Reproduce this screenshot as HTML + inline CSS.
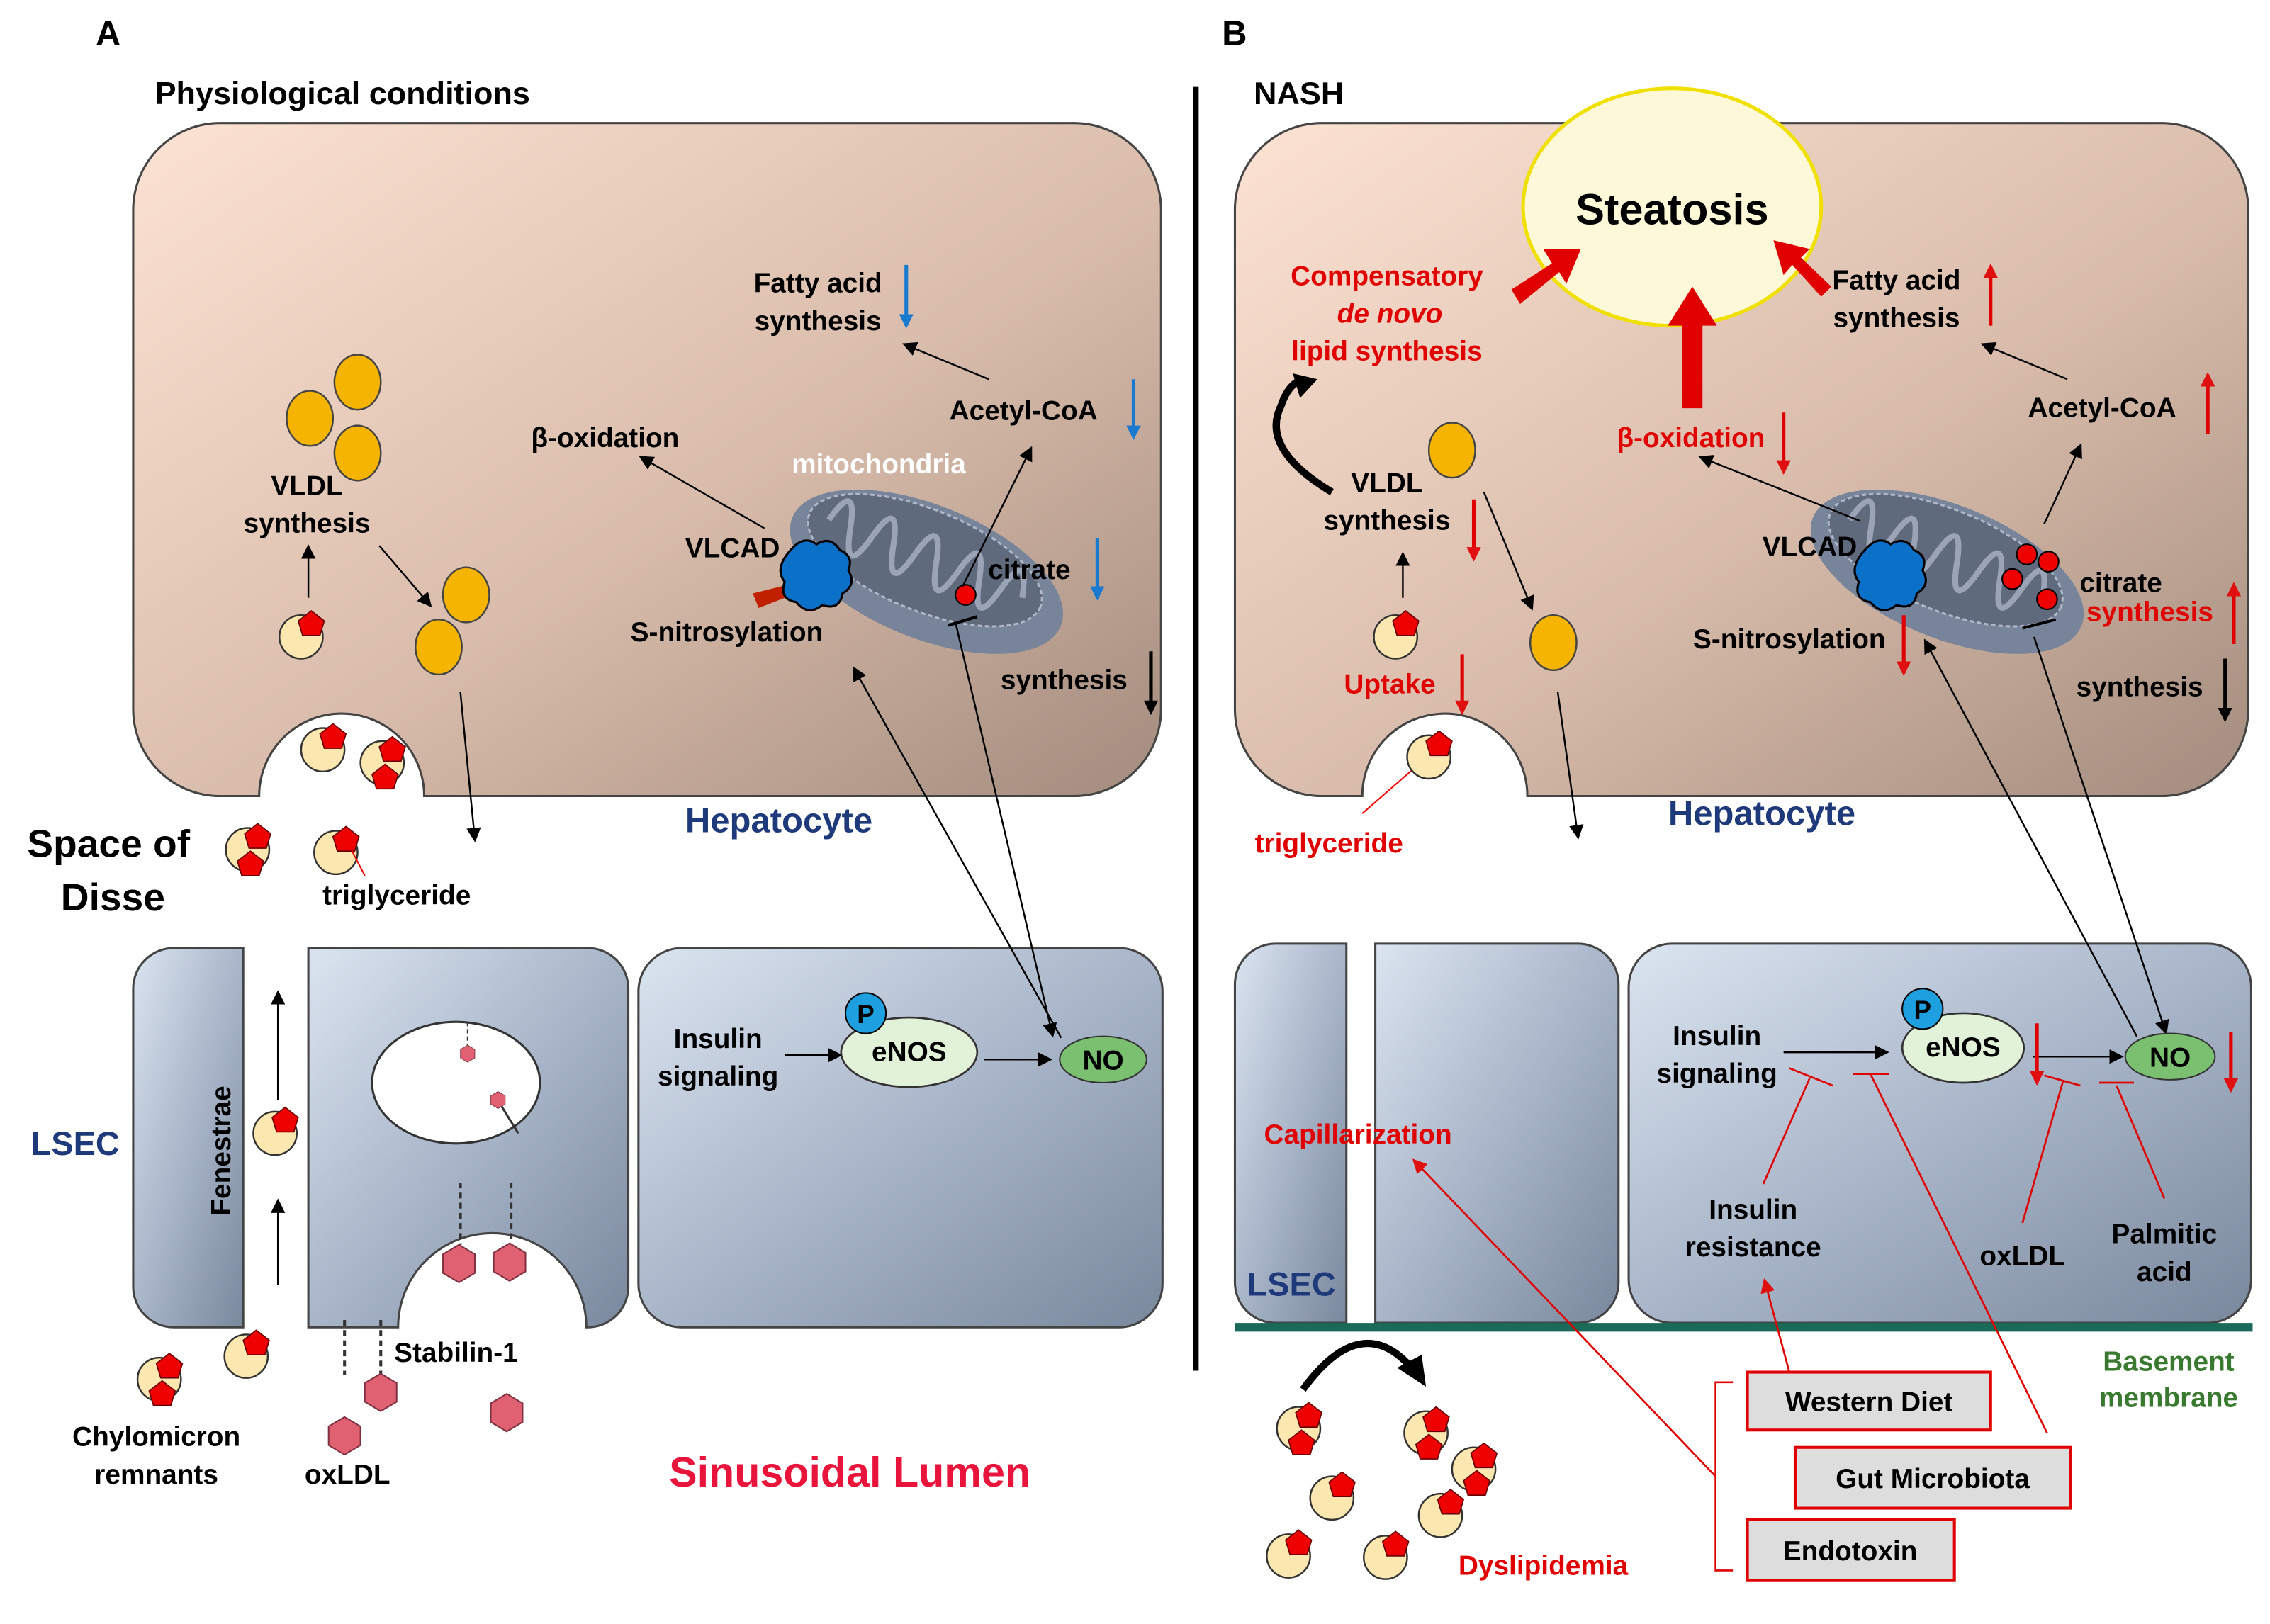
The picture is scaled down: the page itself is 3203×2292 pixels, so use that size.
<!DOCTYPE html>
<html><head><style>html,body{margin:0;padding:0;background:#fff}svg{display:block}</style></head>
<body>
<svg width="3203" height="2292" viewBox="0 0 1568 1122" xmlns="http://www.w3.org/2000/svg" font-family="Liberation Sans, Arial, sans-serif" font-weight="bold">
<defs>
<linearGradient id="hep" x1="0" y1="0" x2="1" y2="1"><stop offset="0" stop-color="#fde3d4"/><stop offset="0.55" stop-color="#d9bcab"/><stop offset="1" stop-color="#a38c7e"/></linearGradient>
<linearGradient id="lsec" x1="0" y1="0" x2="1" y2="1"><stop offset="0" stop-color="#dbe4f0"/><stop offset="0.5" stop-color="#a9b6c9"/><stop offset="1" stop-color="#7a889d"/></linearGradient>
<marker id="ab" markerWidth="10" markerHeight="10" refX="8" refY="5" orient="auto" markerUnits="userSpaceOnUse"><path d="M0,0 L10,5 L0,10 z" fill="#000"/></marker>
<marker id="ablue" markerWidth="10" markerHeight="10" refX="8" refY="5" orient="auto" markerUnits="userSpaceOnUse"><path d="M0,0 L10,5 L0,10 z" fill="#1a7ad0"/></marker>
<marker id="ared" markerWidth="10" markerHeight="10" refX="8" refY="5" orient="auto" markerUnits="userSpaceOnUse"><path d="M0,0 L10,5 L0,10 z" fill="#e01010"/></marker>
<g id="lp"><circle cx="0" cy="0" r="15" fill="#fde7b0" stroke="#333" stroke-width="1.2"/><polygon points="7,-18 16,-11 13,-1 1,-1 -2,-11" fill="#e00" stroke="#600" stroke-width="0.8"/></g>
<g id="lp2"><circle cx="0" cy="0" r="15" fill="#fde7b0" stroke="#333" stroke-width="1.2"/><polygon points="7,-18 16,-11 13,-1 1,-1 -2,-11" fill="#e00" stroke="#600" stroke-width="0.8"/><polygon points="2,1 11,8 8,18 -4,18 -7,8" fill="#e00" stroke="#600" stroke-width="0.8"/></g>
<g id="yc"><ellipse cx="0" cy="0" rx="16" ry="19" fill="#f5b400" stroke="#444" stroke-width="1.2"/></g>
<g id="hex"><polygon points="0,-13 11,-6.5 11,6.5 0,13 -11,6.5 -11,-6.5" fill="#e06272" stroke="#803040" stroke-width="1"/></g>
<g id="mito">
<ellipse cx="0" cy="0" rx="100" ry="46" fill="#77849a"/>
<ellipse cx="-4" cy="-7" rx="86" ry="35" fill="#5f6a7c" stroke="#b0b8c8" stroke-width="1.5" stroke-dasharray="3,2"/>
<path d="M-76,-8 q8,-34 16,0 q8,34 16,0 q8,-34 16,0 q8,34 16,0 q8,-34 16,0 q8,34 16,0 q8,-34 16,0 q8,34 16,0 q8,-34 16,0" fill="none" stroke="#9aa4b6" stroke-width="4"/>
</g>
</defs>
<rect width="1568" height="1122" fill="#fff"/>

<!-- Panel A -->
<text x="66" y="31" font-size="24">A</text>
<text x="107" y="72" font-size="22">Physiological conditions</text>
<path d="M152,85 H742 A60,60 0 0 1 802,145 V490 A60,60 0 0 1 742,550 H293 A57,57 0 0 0 179,550 H152 A60,60 0 0 1 92,490 V145 A60,60 0 0 1 152,85 Z" fill="url(#hep)" stroke="#444" stroke-width="1.5"/>
<line x1="826" y1="60" x2="826" y2="947" stroke="#000" stroke-width="4"/>

<!-- LSEC A -->
<path d="M120,655 H168 V917 H120 A28,28 0 0 1 92,889 V683 A28,28 0 0 1 120,655 Z" fill="url(#lsec)" stroke="#444" stroke-width="1.5"/>
<path d="M213,655 H406 A28,28 0 0 1 434,683 V889 A28,28 0 0 1 406,917 H405 A65,65 0 0 0 275,917 H213 Z" fill="url(#lsec)" stroke="#444" stroke-width="1.5"/>
<rect x="441" y="655" width="362" height="262" rx="30" fill="url(#lsec)" stroke="#444" stroke-width="1.5"/>
<ellipse cx="315" cy="748" rx="58" ry="42" fill="#fff" stroke="#333" stroke-width="1.5"/>
<line x1="323" y1="706" x2="323" y2="725" stroke="#333" stroke-dasharray="3,2"/><use href="#hex" transform="translate(323,728) scale(0.45)"/>
<line x1="345" y1="762" x2="358" y2="783" stroke="#333" stroke-width="1.5"/><use href="#hex" transform="translate(344,760) scale(0.45)"/>
<line x1="318" y1="817" x2="318" y2="860" stroke="#333" stroke-width="2" stroke-dasharray="4,3"/>
<line x1="353" y1="817" x2="353" y2="860" stroke="#333" stroke-width="2" stroke-dasharray="4,3"/>
<use href="#hex" transform="translate(317,873)"/><use href="#hex" transform="translate(352,872)"/>
<line x1="238" y1="912" x2="238" y2="950" stroke="#333" stroke-width="2" stroke-dasharray="4,3"/>
<line x1="263" y1="912" x2="263" y2="950" stroke="#333" stroke-width="2" stroke-dasharray="4,3"/>
<use href="#hex" transform="translate(263,962)"/><use href="#hex" transform="translate(238,992)"/><use href="#hex" transform="translate(350,976)"/>

<g transform="translate(640,395) rotate(22)"><use href="#mito"/></g>
<g font-size="19" fill="#000" text-anchor="middle">
<text x="565" y="202">Fatty acid</text><text x="565" y="228">synthesis</text>
<text x="707" y="290">Acetyl-CoA</text>
<text x="418" y="309">β-oxidation</text>
<text x="212" y="342">VLDL</text><text x="212" y="368">synthesis</text>
<text x="711" y="400">citrate</text>
<text x="502" y="443">S-nitrosylation</text>
<text x="735" y="476">synthesis</text>
<text x="274" y="625">triglyceride</text>
<text x="496" y="724">Insulin</text><text x="496" y="750">signaling</text>
<text x="315" y="941">Stabilin-1</text>
<text x="108" y="999">Chylomicron</text><text x="108" y="1025">remnants</text>
<text x="240" y="1025">oxLDL</text>
</g>
<text x="607" y="327" font-size="19" fill="#fff" text-anchor="middle">mitochondria</text>
<text x="506" y="385" font-size="19" text-anchor="middle">VLCAD</text>
<polygon points="520,410 560,400 555,408 524,420" fill="#c02000"/>
<path d="M548,378 q8,-8 16,-2 q10,-6 16,4 q10,4 6,14 q6,10 -4,16 q-2,12 -14,8 q-10,8 -18,-2 q-12,-2 -8,-14 q-8,-10 6,-24z" fill="#0a70c8" stroke="#000" stroke-width="1.5"/>
<circle cx="667" cy="411" r="7" fill="#e00" stroke="#000"/>
<line x1="655" y1="432" x2="675" y2="426" stroke="#000" stroke-width="2"/>

<!-- A arrows -->
<g stroke="#000" stroke-width="1.2" fill="none" marker-end="url(#ab)">
<line x1="683" y1="262" x2="625" y2="238"/>
<line x1="665" y1="405" x2="712" y2="310"/>
<line x1="528" y1="365" x2="443" y2="316"/>
<line x1="213" y1="413" x2="213" y2="378"/>
<line x1="262" y1="377" x2="297" y2="418"/>
<line x1="318" y1="478" x2="328" y2="580"/>
<line x1="660" y1="430" x2="727" y2="715"/>
<line x1="733" y1="717" x2="590" y2="462"/>
<line x1="542" y1="729" x2="580" y2="729"/>
<line x1="680" y1="732" x2="725" y2="732"/>
<line x1="192" y1="760" x2="192" y2="686"/>
<line x1="192" y1="888" x2="192" y2="830"/>
</g>
<g stroke="#1a7ad0" stroke-width="2.5" marker-end="url(#ablue)">
<line x1="626" y1="183" x2="626" y2="225"/><line x1="783" y1="262" x2="783" y2="302"/><line x1="758" y1="372" x2="758" y2="413"/>
</g>
<line x1="795" y1="450" x2="795" y2="492" stroke="#000" stroke-width="2.5" marker-end="url(#ab)"/>

<use href="#yc" transform="translate(247,264)"/><use href="#yc" transform="translate(214,289)"/><use href="#yc" transform="translate(247,313)"/>
<use href="#yc" transform="translate(322,411)"/><use href="#yc" transform="translate(303,447)"/>
<use href="#lp" transform="translate(208,440)"/>
<use href="#lp" transform="translate(223,518)"/><use href="#lp2" transform="translate(264,527)"/>
<use href="#lp2" transform="translate(171,587)"/><use href="#lp" transform="translate(232,589)"/>
<line x1="238" y1="578" x2="252" y2="605" stroke="#e00" stroke-width="1"/>
<use href="#lp" transform="translate(190,783)"/>
<use href="#lp" transform="translate(170,937)"/><use href="#lp2" transform="translate(110,953)"/>

<text x="75" y="592" font-size="27" text-anchor="middle">Space of</text>
<text x="78" y="629" font-size="27" text-anchor="middle">Disse</text>
<text x="538" y="575" font-size="24" fill="#1f3a7a" text-anchor="middle">Hepatocyte</text>
<text x="52" y="798" font-size="23" fill="#1f3a7a" text-anchor="middle">LSEC</text>
<text transform="translate(159,795) rotate(-90)" font-size="19" text-anchor="middle">Fenestrae</text>
<text x="587" y="1027" font-size="29" fill="#e8143c" text-anchor="middle">Sinusoidal Lumen</text>

<ellipse cx="628" cy="727" rx="47" ry="24" fill="#e2f2d8" stroke="#333" stroke-width="1.3"/>
<text x="628" y="733" font-size="19" text-anchor="middle">eNOS</text>
<circle cx="598" cy="700" r="14" fill="#1ea0e0" stroke="#000"/><text x="598" y="707" font-size="18" text-anchor="middle">P</text>
<ellipse cx="762" cy="732" rx="30" ry="16" fill="#7ac070" stroke="#333"/><text x="762" y="739" font-size="19" text-anchor="middle">NO</text>

<!-- Panel B -->
<text x="844" y="31" font-size="24">B</text>
<text x="866" y="72" font-size="22">NASH</text>
<path d="M913,85 H1493 A60,60 0 0 1 1553,145 V490 A60,60 0 0 1 1493,550 H1055 A57,57 0 0 0 941,550 H913 A60,60 0 0 1 853,490 V145 A60,60 0 0 1 913,85 Z" fill="url(#hep)" stroke="#444" stroke-width="1.5"/>
<path d="M881,652 H930 V914 H881 A28,28 0 0 1 853,886 V680 A28,28 0 0 1 881,652 Z" fill="url(#lsec)" stroke="#444" stroke-width="1.5"/>
<path d="M950,652 H1090 A28,28 0 0 1 1118,680 V886 A28,28 0 0 1 1090,914 H950 Z" fill="url(#lsec)" stroke="#444" stroke-width="1.5"/>
<rect x="1125" y="652" width="430" height="262" rx="30" fill="url(#lsec)" stroke="#444" stroke-width="1.5"/>
<line x1="853" y1="917" x2="1556" y2="917" stroke="#1a6a5a" stroke-width="6"/>

<ellipse cx="1155" cy="143" rx="103" ry="82" fill="#fdf8d8" stroke="#f0e000" stroke-width="2.5"/>
<text x="1155" y="155" font-size="30" text-anchor="middle">Steatosis</text>
<g fill="#e00000">
<polygon points="1044,200 1072,182 1066,172 1092,172 1082,196 1077,188 1050,210"/>
<polygon points="1162,282 1162,225 1152,225 1169,198 1186,225 1176,225 1176,282"/>
<polygon points="1258,205 1238,183 1232,190 1225,166 1250,172 1244,178 1265,198"/>
</g>
<g transform="translate(1345,395) rotate(22)"><use href="#mito"/></g>
<g font-size="19" fill="#e00000" text-anchor="middle">
<text x="958" y="197">Compensatory</text><text x="960" y="223" font-style="italic">de novo</text><text x="958" y="249">lipid synthesis</text>
<text x="1168" y="309">β-oxidation</text>
<text x="960" y="479">Uptake</text>
<text x="918" y="589">triglyceride</text>
<text x="1485" y="429">synthesis</text>
<text x="938" y="790">Capillarization</text>
<text x="1066" y="1088">Dyslipidemia</text>
</g>
<g font-size="19" fill="#000" text-anchor="middle">
<text x="1310" y="200">Fatty acid</text><text x="1310" y="226">synthesis</text>
<text x="1452" y="288">Acetyl-CoA</text>
<text x="958" y="340">VLDL</text><text x="958" y="366">synthesis</text>
<text x="1465" y="409">citrate</text>
<text x="1478" y="481">synthesis</text>
<text x="1186" y="722">Insulin</text><text x="1186" y="748">signaling</text>
<text x="1211" y="842">Insulin</text><text x="1211" y="868">resistance</text>
<text x="1397" y="874">oxLDL</text>
<text x="1495" y="859">Palmitic</text><text x="1495" y="885">acid</text>
</g>
<text x="1250" y="384" font-size="19" text-anchor="middle">VLCAD</text>
<text x="1236" y="448" font-size="19" text-anchor="middle">S-nitrosylation</text>
<path d="M1290,378 q8,-8 16,-2 q10,-6 16,4 q10,4 6,14 q6,10 -4,16 q-2,12 -14,8 q-10,8 -18,-2 q-12,-2 -8,-14 q-8,-10 6,-24z" fill="#0a70c8" stroke="#000" stroke-width="1.5"/>
<g fill="#e00" stroke="#000"><circle cx="1400" cy="383" r="7"/><circle cx="1415" cy="388" r="7"/><circle cx="1390" cy="400" r="7"/><circle cx="1414" cy="414" r="7"/></g>
<line x1="1397" y1="434" x2="1420" y2="428" stroke="#000" stroke-width="2"/>

<g stroke="#000" stroke-width="1.2" fill="none" marker-end="url(#ab)">
<line x1="1428" y1="262" x2="1370" y2="238"/>
<line x1="1412" y1="362" x2="1437" y2="308"/>
<line x1="1285" y1="360" x2="1175" y2="316"/>
<line x1="969" y1="413" x2="969" y2="383"/>
<line x1="1025" y1="340" x2="1058" y2="420"/>
<line x1="1076" y1="478" x2="1090" y2="578"/>
<line x1="1405" y1="440" x2="1496" y2="713"/>
<line x1="1476" y1="716" x2="1330" y2="443"/>
<line x1="1232" y1="727" x2="1303" y2="727"/>
<line x1="1404" y1="730" x2="1465" y2="730"/>
</g>
<path d="M920,340 Q870,310 885,280 Q890,265 900,262" fill="none" stroke="#000" stroke-width="5"/>
<polygon points="893,258 910,262 898,275" fill="#000"/>
<path d="M900,960 Q940,905 975,945" fill="none" stroke="#000" stroke-width="5"/>
<polygon points="965,945 985,958 982,936" fill="#000"/>

<g stroke="#e00000" stroke-width="2.5" marker-end="url(#ared)">
<line x1="1375" y1="225" x2="1375" y2="184"/>
<line x1="1525" y1="300" x2="1525" y2="259"/>
<line x1="1232" y1="285" x2="1232" y2="326"/>
<line x1="1018" y1="345" x2="1018" y2="386"/>
<line x1="1010" y1="452" x2="1010" y2="492"/>
<line x1="1543" y1="445" x2="1543" y2="404"/>
<line x1="1315" y1="425" x2="1315" y2="465"/>
<line x1="1407" y1="707" x2="1407" y2="748"/>
<line x1="1541" y1="713" x2="1541" y2="753"/>
</g>
<line x1="1537" y1="455" x2="1537" y2="497" stroke="#000" stroke-width="2.5" marker-end="url(#ab)"/>

<!-- inhibition lines -->
<g stroke="#e00000" stroke-width="1.3" fill="none">
<line x1="1218" y1="818" x2="1250" y2="745"/><line x1="1236" y1="738" x2="1266" y2="750"/>
<line x1="1414" y1="990" x2="1292" y2="742"/><line x1="1280" y1="742" x2="1305" y2="742"/>
<line x1="1397" y1="845" x2="1425" y2="747"/><line x1="1412" y1="743" x2="1437" y2="750"/>
<line x1="1495" y1="828" x2="1462" y2="750"/><line x1="1450" y1="748" x2="1474" y2="748"/>
<line x1="1236" y1="948" x2="1219" y2="885" marker-end="url(#ared)"/>
<line x1="1185" y1="1020" x2="977" y2="802" marker-end="url(#ared)"/>
<path d="M1197,955 H1185 V1085 H1197"/>
</g>
<line x1="941" y1="562" x2="980" y2="528" stroke="#e00" stroke-width="1"/>

<g font-size="19" text-anchor="middle">
<rect x="1207" y="948" width="168" height="40" fill="#ddd" stroke="#e00000" stroke-width="2"/><text x="1291" y="975">Western Diet</text>
<rect x="1240" y="1000" width="190" height="42" fill="#ddd" stroke="#e00000" stroke-width="2"/><text x="1335" y="1028">Gut Microbiota</text>
<rect x="1207" y="1050" width="143" height="42" fill="#ddd" stroke="#e00000" stroke-width="2"/><text x="1278" y="1078">Endotoxin</text>
</g>

<use href="#yc" transform="translate(1003,311)"/><use href="#yc" transform="translate(1073,444)"/>
<use href="#lp" transform="translate(964,440)"/><use href="#lp" transform="translate(987,523)"/>
<use href="#lp2" transform="translate(897,987)"/><use href="#lp2" transform="translate(985,990)"/><use href="#lp2" transform="translate(1018,1015)"/>
<use href="#lp" transform="translate(920,1035)"/><use href="#lp" transform="translate(995,1047)"/><use href="#lp" transform="translate(890,1075)"/><use href="#lp" transform="translate(957,1076)"/>

<text x="1217" y="570" font-size="24" fill="#1f3a7a" text-anchor="middle">Hepatocyte</text>
<text x="892" y="895" font-size="23" fill="#1f3a7a" text-anchor="middle">LSEC</text>
<text x="1498" y="947" font-size="19" fill="#3a7a30" text-anchor="middle">Basement</text>
<text x="1498" y="972" font-size="19" fill="#3a7a30" text-anchor="middle">membrane</text>

<ellipse cx="1356" cy="724" rx="42" ry="24" fill="#e2f2d8" stroke="#333" stroke-width="1.3"/>
<text x="1356" y="730" font-size="19" text-anchor="middle">eNOS</text>
<circle cx="1328" cy="697" r="14" fill="#1ea0e0" stroke="#000"/><text x="1328" y="704" font-size="18" text-anchor="middle">P</text>
<ellipse cx="1499" cy="730" rx="31" ry="16" fill="#7ac070" stroke="#333"/><text x="1499" y="737" font-size="19" text-anchor="middle">NO</text>
</svg>
</body></html>
